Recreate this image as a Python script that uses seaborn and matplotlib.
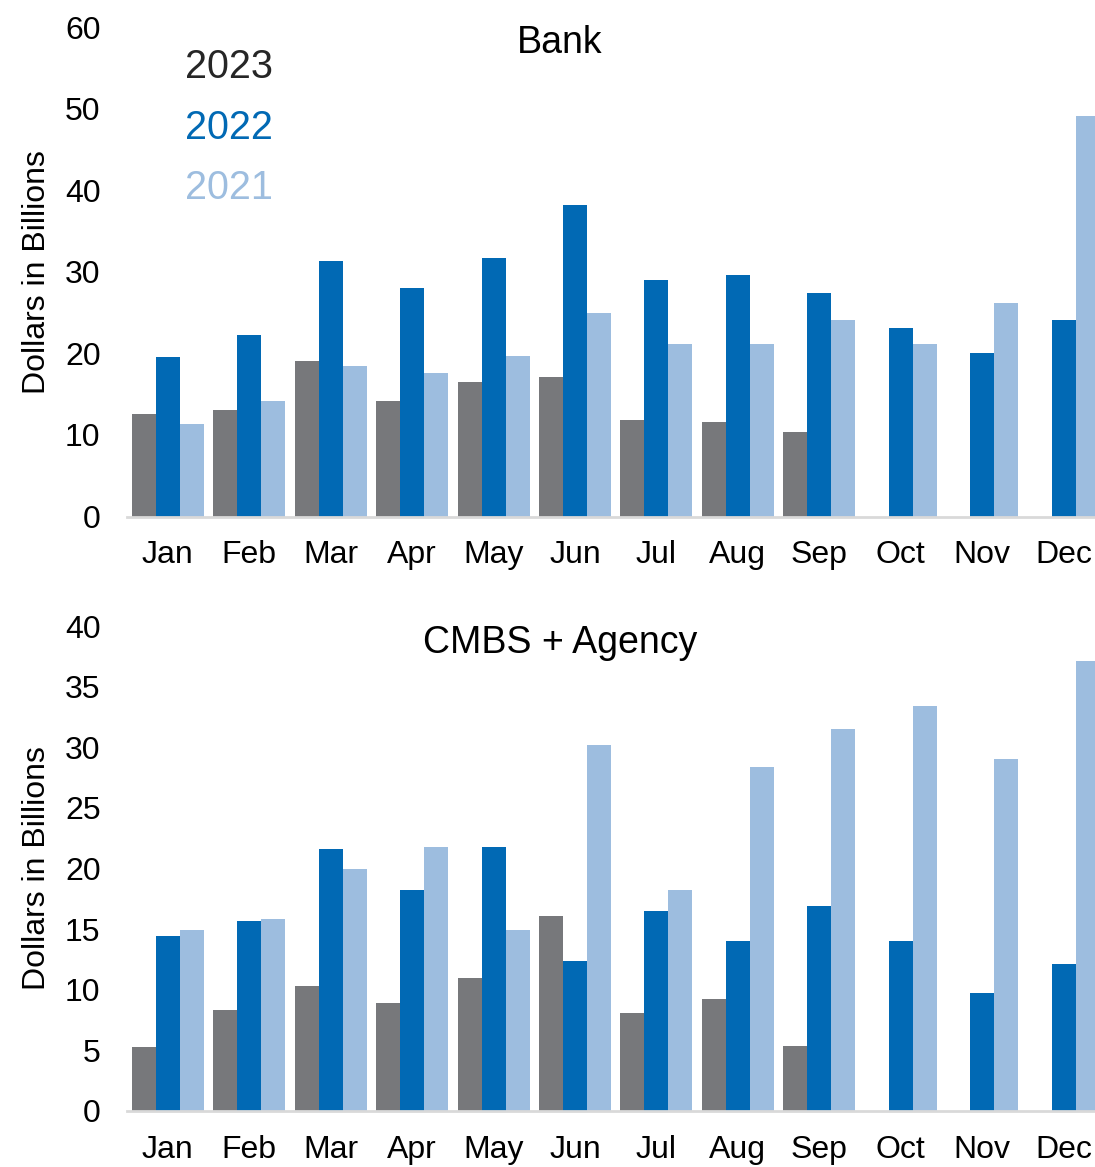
import numpy as np
import pandas as pd
import matplotlib
matplotlib.use("Agg")
import matplotlib.pyplot as plt
import seaborn as sns

months = ["Jan", "Feb", "Mar", "Apr", "May", "Jun", "Jul", "Aug", "Sep", "Oct", "Nov", "Dec"]
years = ["2023", "2022", "2021"]

bank_2023 = [12.6, 13.0, 19.1, 14.2, 16.5, 17.1, 11.8, 11.6, 10.4, np.nan, np.nan, np.nan]
bank_2022 = [19.5, 22.3, 31.3, 28.0, 31.7, 38.2, 29.0, 29.6, 27.4, 23.1, 20.1, 24.1]
bank_2021 = [11.3, 14.1, 18.4, 17.6, 19.7, 25.0, 21.2, 21.1, 24.1, 21.1, 26.2, 49.1]

cmbs_2023 = [5.3, 8.3, 10.3, 8.9, 11.0, 16.1, 8.1, 9.2, 5.4, np.nan, np.nan, np.nan]
cmbs_2022 = [14.4, 15.7, 21.6, 18.2, 21.8, 12.4, 16.5, 14.0, 16.9, 14.0, 9.7, 12.1]
cmbs_2021 = [14.9, 15.8, 20.0, 21.8, 14.9, 30.2, 18.2, 28.4, 31.5, 33.4, 29.0, 37.1]

colors = {"2023": "#77787B", "2022": "#0169B4", "2021": "#9DBDDF"}
legend_colors = {"2023": "#262626", "2022": "#0169B4", "2021": "#9DBDDF"}


def long_frame(v23, v22, v21):
    rows = []
    for yr, vals in zip(years, [v23, v22, v21]):
        for m, v in zip(months, vals):
            rows.append({"Month": m, "Year": yr, "Value": v})
    return pd.DataFrame(rows)


bank_df = long_frame(bank_2023, bank_2022, bank_2021)
cmbs_df = long_frame(cmbs_2023, cmbs_2022, cmbs_2021)

sns.set_theme(style="white")
plt.rcParams["font.family"] = ["Liberation Sans", "DejaVu Sans"]

fig = plt.figure(figsize=(10.95, 11.67), dpi=100)
left = 127 / 1095
width = (1104.5 - 127) / 1095
ax1 = fig.add_axes([left, 1 - 516.5 / 1167, width, (516.5 - 27) / 1167])
ax2 = fig.add_axes([left, 1 - 1111 / 1167, width, (1111 - 626) / 1167])


def draw(ax, df, ymax, step, title, title_y_px):
    sns.barplot(data=df, x="Month", y="Value", hue="Year", order=months,
                hue_order=years, palette=colors, width=0.884, gap=0,
                linewidth=0, errorbar=None, ax=ax, saturation=1)
    ax.set_xlim(-0.5, 11.5)
    ax.set_ylim(0, ymax)
    ax.set_yticks(np.arange(0, ymax + 0.1, step))
    ax.set_yticklabels([f"{int(t)}" for t in np.arange(0, ymax + 0.1, step)])
    for s in ["top", "right", "left"]:
        ax.spines[s].set_visible(False)
    ax.spines["bottom"].set_color("#D9D9D9")
    ax.spines["bottom"].set_linewidth(2)
    ax.tick_params(axis="y", length=0, pad=19, labelsize=23, colors="black")
    ax.tick_params(axis="x", length=0, pad=17, labelsize=23, colors="black")
    ax.set_xlabel("")
    ax.set_ylabel("Dollars in Billions", fontsize=23, color="black")
    ax.yaxis.set_label_coords(-0.0768, 0.5)
    fig.text(560 / 1095, 1 - title_y_px / 1167, title, ha="center", va="center",
             fontsize=27, color="black")
    ax.set_facecolor("white")


draw(ax1, bank_df, 60, 10, "Bank", 43)
draw(ax2, cmbs_df, 40, 5, "CMBS + Agency", 643)

handles, labels = ax1.get_legend_handles_labels()
for h in handles:
    h.set_visible(False)
leg = ax1.legend(handles, labels, loc="upper left", bbox_to_anchor=(0.023, 1.03),
                 frameon=False, handlelength=0, handletextpad=0, fontsize=28.5,
                 labelspacing=0.57)
for t, lab in zip(leg.get_texts(), labels):
    t.set_color(legend_colors[lab])
if ax2.get_legend() is not None:
    ax2.get_legend().remove()

fig.savefig("out.png", dpi=100, facecolor="white")
